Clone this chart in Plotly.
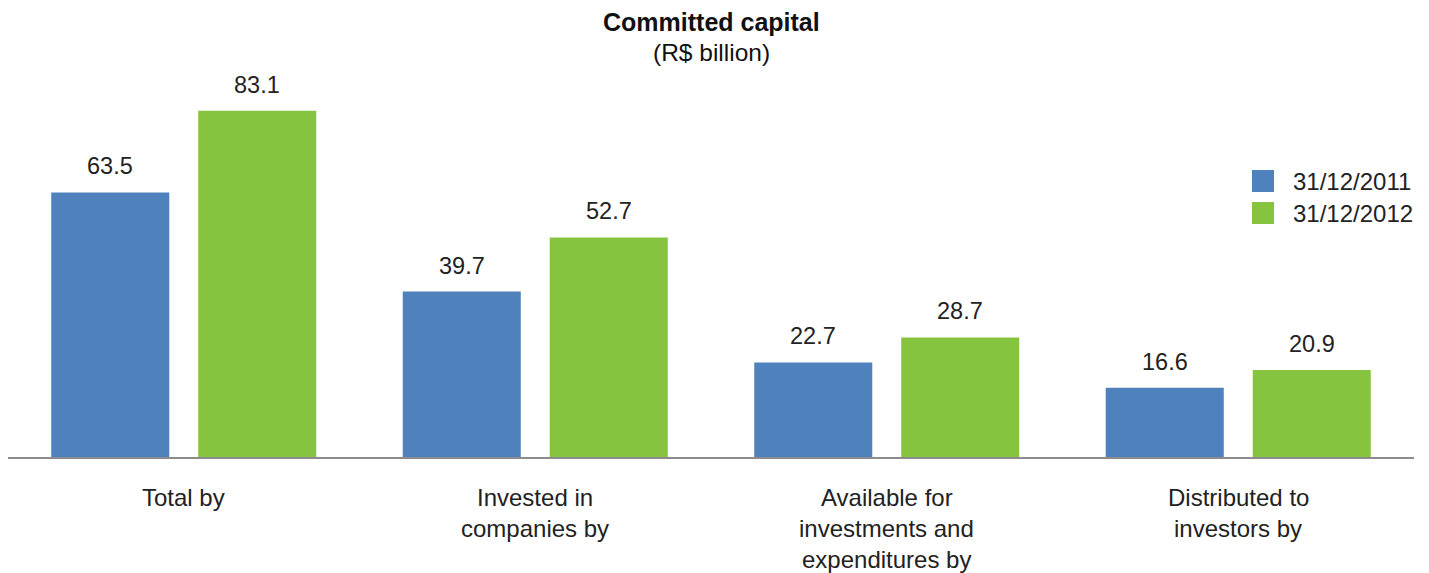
import plotly.graph_objects as go

# Data
categories = ["Total by", "Invested in<br>companies by",
              "Available for<br>investments and<br>expenditures by",
              "Distributed to<br>investors by"]
series_names = ["31/12/2011", "31/12/2012"]
values_2011 = [63.5, 39.7, 22.7, 16.6]
values_2012 = [83.1, 52.7, 28.7, 20.9]

colors = ["#4F82BD", "#86C440"]
FONT = "Liberation Sans, Arial, sans-serif"
TEXT_COLOR = "#222222"

W, H = 1429, 573
ML, MR, MT, MB = 8, 15, 60, 116
PLOT_W = W - ML - MR
PLOT_H = H - MT - MB
Y_MAX = 95.3


def px_to_paper(px, py):
    return (px - ML) / PLOT_W, (H - MB - py) / PLOT_H


fig = go.Figure()
for name, vals, col in zip(series_names, [values_2011, values_2012], colors):
    fig.add_trace(go.Bar(
        x=categories, y=vals, name=name,
        marker=dict(color=col, line=dict(width=0)),
        showlegend=False, hoverinfo="skip",
    ))

# bar geometry (pixels) for placing value labels above each bar
slot_px = PLOT_W / len(categories) * (1 - 0.1636) / 2
annotations = []
for j, vals in enumerate([values_2011, values_2012]):
    shift = (j - 0.5) * slot_px
    for cat, v in zip(categories, vals):
        annotations.append(dict(
            x=cat, y=v, xref="x", yref="y", text=f"{v:.1f}",
            showarrow=False, xshift=shift, yanchor="bottom", yshift=11,
            font=dict(family=FONT, size=23.5, color=TEXT_COLOR),
        ))

# category labels, one annotation per line for even line spacing
for cat in categories:
    for k, line in enumerate(cat.split("<br>")):
        annotations.append(dict(
            x=cat, y=0, xref="x", yref="paper", text=line,
            showarrow=False, yanchor="top", yshift=-(25 + 31 * k),
            font=dict(family=FONT, size=24, color=TEXT_COLOR),
        ))

# legend drawn as swatches + labels
shapes = []
for i, (name, col) in enumerate(zip(series_names, colors)):
    top = 170 + 32 * i
    x0, y0 = px_to_paper(1252, top + 22)
    x1, y1 = px_to_paper(1274, top)
    shapes.append(dict(type="rect", xref="paper", yref="paper",
                       x0=x0, y0=y0, x1=x1, y1=y1,
                       fillcolor=col, line=dict(width=0)))
    tx, ty = px_to_paper(1291, top + 11)
    annotations.append(dict(
        x=tx, y=ty, xref="paper", yref="paper", text=name,
        showarrow=False, xanchor="left", yanchor="middle",
        font=dict(family=FONT, size=24, color=TEXT_COLOR),
    ))

# title and unit line
cx = 0.5
for text, py, size in [("<b>Committed capital</b>", 22, 25),
                       ("(R$ billion)", 52, 24.5)]:
    _, ty = px_to_paper(0, py)
    annotations.append(dict(
        x=cx, y=ty, xref="paper", yref="paper", text=text,
        showarrow=False, xanchor="center", yanchor="middle",
        font=dict(family=FONT, size=size, color="#111111"),
    ))

fig.update_layout(
    width=W, height=H,
    margin=dict(l=ML, r=MR, t=MT, b=MB),
    paper_bgcolor="white", plot_bgcolor="white",
    barmode="group", bargap=0.1636, bargroupgap=0.197,
    xaxis=dict(showticklabels=False, ticks="", showgrid=False,
               showline=True, linecolor="#8c8c8c", linewidth=2,
               zeroline=False),
    yaxis=dict(range=[0, Y_MAX], visible=False, showgrid=False,
               zeroline=False),
    annotations=annotations,
    shapes=shapes,
    showlegend=False,
)

fig.write_html("out.html")
